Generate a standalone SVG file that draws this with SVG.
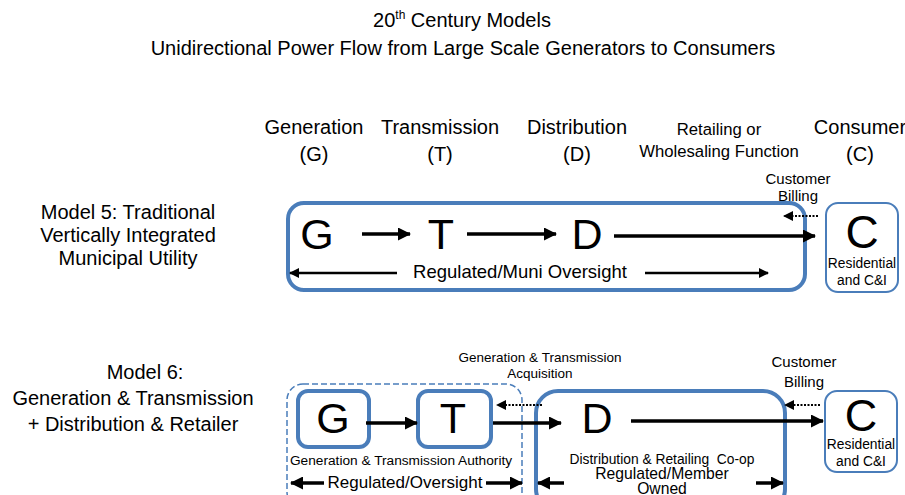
<svg xmlns="http://www.w3.org/2000/svg" width="905" height="495" viewBox="0 0 905 495">
<defs>
<style>
text{font-family:"Liberation Sans",Arial,sans-serif;fill:#000;text-anchor:middle}
.t20{font-size:20px}
.t17{font-size:16.7px}
.t15{font-size:15px}
.t14{font-size:13.8px}
.big{font-size:43px}
.box{fill:none;stroke:#4a7dba;stroke-width:4}
.thin{fill:#fff;stroke:#4a7dba;stroke-width:2}
.dash{fill:none;stroke:#4a7dba;stroke-width:1.5;stroke-dasharray:6 3}
.a3{stroke:#000;stroke-width:3.5;fill:none}
.a2{stroke:#000;stroke-width:2.5;fill:none}
.dot{stroke:#000;stroke-width:2;stroke-dasharray:2 1.5;fill:none}
</style>
<marker id="ah" markerWidth="10" markerHeight="10" refX="9" refY="5" orient="auto" markerUnits="userSpaceOnUse" viewBox="0 0 10 10"><path d="M0,0 L10,5 L0,10 z" fill="#000"/></marker>
<marker id="ahL" markerWidth="13" markerHeight="13" refX="12" refY="6.5" orient="auto" markerUnits="userSpaceOnUse" viewBox="0 0 13 13"><path d="M0,0 L13,6.5 L0,13 z" fill="#000"/></marker>
</defs>

<g id="title">
<text x="462" y="27" class="t20">20<tspan font-size="12" dy="-8">th</tspan><tspan dy="8"> Century Models</tspan></text>
<text x="463" y="55" class="t20">Unidirectional Power Flow from Large Scale Generators to Consumers</text>
</g>

<g id="headers">
<text x="314" y="134" class="t20">Generation</text>
<text x="314" y="161" class="t20">(G)</text>
<text x="440" y="134" class="t20">Transmission</text>
<text x="440" y="161" class="t20">(T)</text>
<text x="577" y="134" class="t20">Distribution</text>
<text x="577" y="161" class="t20">(D)</text>
<text x="719" y="135" class="t17">Retailing or</text>
<text x="719" y="157" class="t17">Wholesaling Function</text>
<text x="860" y="134" class="t20">Consumer</text>
<text x="860" y="161" class="t20">(C)</text>
</g>

<g id="model5-label">
<text x="128" y="219" class="t20">Model 5: Traditional</text>
<text x="128" y="242" class="t20">Vertically Integrated</text>
<text x="128" y="265" class="t20">Municipal Utility</text>
</g>

<g id="model5-utility">
<rect x="288" y="203" width="517" height="87" rx="16" class="box"/>
<text x="317" y="249" class="big">G</text>
<text x="441" y="249" class="big">T</text>
<text x="587" y="249" class="big">D</text>
<text x="520" y="278" font-size="18.5">Regulated/Muni Oversight</text>
</g>

<g id="model5-consumer">
<rect x="826" y="203" width="72" height="89" rx="12" class="thin"/>
<text x="862" y="248" font-size="46">C</text>
<text x="862" y="268" class="t14">Residential</text>
<text x="862" y="285" class="t14">and C&amp;I</text>
</g>

<g id="model5-billing">
<text x="798" y="184" class="t15">Customer</text>
<text x="798" y="201" class="t15">Billing</text>
</g>

<g id="model6-label">
<text x="145" y="379" class="t20">Model 6:</text>
<text x="133" y="405" class="t20">Generation &amp; Transmission</text>
<text x="133" y="431" class="t20">+ Distribution &amp; Retailer</text>
</g>

<g id="model6-authority">
<rect x="287" y="384" width="235" height="124" rx="16" class="dash"/>
<text x="401" y="465" font-size="13.7">Generation &amp; Transmission Authority</text>
<text x="405" y="488" font-size="17">Regulated/Oversight</text>
</g>

<g id="model6-G">
<rect x="298" y="391" width="71" height="56" rx="10" class="box"/>
<text x="333" y="433" class="big">G</text>
</g>

<g id="model6-T">
<rect x="418" y="391" width="73" height="56" rx="10" class="box"/>
<text x="453" y="433" class="big">T</text>
</g>

<g id="model6-coop">
<rect x="536" y="391" width="249" height="120" rx="22" class="box"/>
<text x="597" y="433" class="big">D</text>
<text x="662" y="464" font-size="13.8" style="white-space:pre">Distribution &amp; Retailing  Co-op</text>
<text x="662" y="479" font-size="15.7">Regulated/Member</text>
<text x="662" y="494" font-size="15.7">Owned</text>
</g>

<g id="model6-acquisition">
<text x="540" y="362" font-size="13.5">Generation &amp; Transmission</text>
<text x="540" y="378" font-size="13.5">Acquisition</text>
</g>

<g id="model6-billing">
<text x="804" y="367" class="t15">Customer</text>
<text x="804" y="387" class="t15">Billing</text>
</g>

<g id="model6-consumer">
<rect x="825" y="391" width="72" height="81" rx="12" class="thin"/>
<text x="861" y="431" font-size="45">C</text>
<text x="861" y="449" class="t14">Residential</text>
<text x="861" y="466" class="t14">and C&amp;I</text>
</g>

<g id="connectors">
<line x1="362" y1="234" x2="410" y2="234" class="a3" marker-end="url(#ahL)"/>
<line x1="467" y1="234" x2="556" y2="234" class="a3" marker-end="url(#ahL)"/>
<line x1="614" y1="236" x2="815" y2="236" class="a3" marker-end="url(#ahL)"/>
<line x1="397" y1="273" x2="290" y2="273" class="a2" marker-end="url(#ah)"/>
<line x1="645" y1="273" x2="768" y2="273" class="a2" marker-end="url(#ah)"/>
<line x1="818" y1="216" x2="784" y2="216" class="dot" marker-end="url(#ah)"/>

<line x1="366" y1="423" x2="417" y2="423" class="a3" marker-end="url(#ahL)"/>
<line x1="493" y1="423" x2="561" y2="423" class="a3" marker-end="url(#ahL)"/>
<line x1="631" y1="421" x2="823" y2="421" class="a3" marker-end="url(#ahL)"/>
<line x1="542" y1="405" x2="497" y2="405" class="dot" marker-end="url(#ah)"/>
<line x1="820" y1="405" x2="785" y2="405" class="dot" marker-end="url(#ah)"/>
<line x1="324" y1="483" x2="291" y2="483" class="a3" marker-end="url(#ahL)"/>
<line x1="486" y1="483" x2="522" y2="483" class="a3" marker-end="url(#ahL)"/>
<line x1="564" y1="483" x2="538" y2="483" class="a3" marker-end="url(#ahL)"/>
<line x1="756" y1="483" x2="783" y2="483" class="a3" marker-end="url(#ahL)"/>
</g>
</svg>
